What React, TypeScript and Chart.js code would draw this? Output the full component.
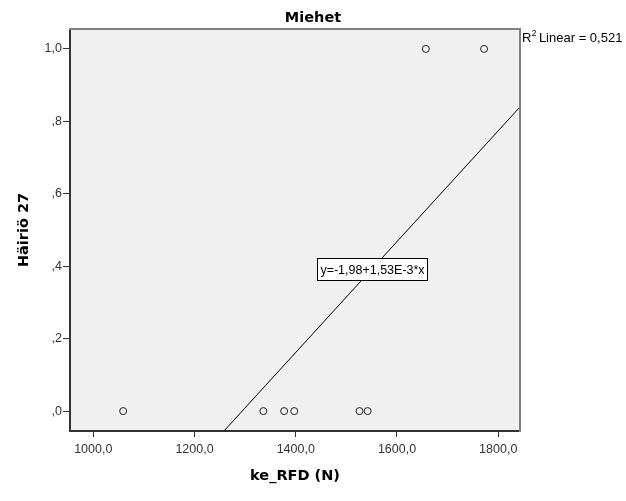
import React, { useEffect, useRef } from "react";
import { Chart, registerables } from "chart.js";

Chart.register(...registerables);

const TITLE = "Miehet";
const X_TITLE = "ke_RFD (N)";
const Y_TITLE = "Häiriö 27";

const xValues = [1059, 1336, 1377, 1397, 1526, 1542, 1657, 1772];
const yValues = [0, 0, 0, 0, 0, 0, 1, 1];

const xTicks = [1000, 1200, 1400, 1600, 1800];
const xTickLabels = ["1000,0", "1200,0", "1400,0", "1600,0", "1800,0"];
const yTicks = [0, 0.2, 0.4, 0.6, 0.8, 1.0];
const yTickLabels = [",0", ",2", ",4", ",6", ",8", "1,0"];

const X_RANGE = [954, 1843];
const Y_RANGE = [-0.055, 1.055];

const FIT_INTERCEPT = -1.98;
const FIT_SLOPE = 1.53e-3;
const FIT_LABEL = "y=-1,98+1,53E-3*x";
const FIT_LABEL_X = 1550;
const R2_VALUE = "0,521";

const SMALL_FONT = "12.5px 'Liberation Sans', Arial, sans-serif";
const BOLD_FONT = "bold 14.5px 'DejaVu Sans', sans-serif";

function labelFor(ticks: number[], labels: string[], v: number) {
  const i = ticks.findIndex((t) => Math.abs(t - v) < 1e-9);
  return i >= 0 ? labels[i] : "";
}

const framePlugin = {
  id: "frame",
  beforeDraw(chart: any) {
    const { ctx, chartArea } = chart;
    const { left, top, right, bottom } = chartArea;
    ctx.save();
    ctx.fillStyle = "#ffffff";
    ctx.fillRect(0, 0, chart.width, chart.height);
    ctx.fillStyle = "#f0f0f0";
    ctx.fillRect(left, top, right - left, bottom - top);
    ctx.restore();
  },
  afterDraw(chart: any) {
    const { ctx, chartArea, scales } = chart;
    const { left, top, right, bottom } = chartArea;
    ctx.save();
    // top and right frame
    ctx.strokeStyle = "#808080";
    ctx.lineWidth = 2;
    ctx.beginPath();
    ctx.moveTo(left - 1, top);
    ctx.lineTo(right, top);
    ctx.lineTo(right, bottom + 1);
    ctx.stroke();

    // chart title, centred on the whole canvas
    ctx.font = BOLD_FONT;
    ctx.fillStyle = "#000000";
    ctx.textAlign = "center";
    ctx.textBaseline = "middle";
    ctx.fillText(TITLE, chart.width / 2, 18);

    // equation label box
    const px = scales.x.getPixelForValue(FIT_LABEL_X);
    const py = scales.y.getPixelForValue(FIT_INTERCEPT + FIT_SLOPE * FIT_LABEL_X);
    ctx.font = SMALL_FONT;
    const tw = ctx.measureText(FIT_LABEL).width;
    const bw = Math.round(tw + 6);
    const bh = 22;
    const bx = Math.round(px - bw / 2) + 0.5;
    const by = Math.round(py - bh / 2) + 0.5;
    ctx.fillStyle = "#ffffff";
    ctx.fillRect(bx, by, bw, bh);
    ctx.strokeStyle = "#000000";
    ctx.lineWidth = 1;
    ctx.strokeRect(bx, by, bw, bh);
    ctx.fillStyle = "#000000";
    ctx.textAlign = "center";
    ctx.textBaseline = "middle";
    ctx.fillText(FIT_LABEL, bx + bw / 2, by + bh / 2 + 1);

    // R² text
    const rx = right + 2;
    const ry = 38;
    ctx.textAlign = "left";
    ctx.textBaseline = "middle";
    ctx.font = "13px 'Liberation Sans', Arial, sans-serif";
    ctx.fillStyle = "#000000";
    ctx.fillText("R", rx, ry);
    const rw = ctx.measureText("R").width;
    ctx.font = "8.5px 'Liberation Sans', Arial, sans-serif";
    ctx.fillText("2", rx + rw + 0.3, ry - 4);
    ctx.font = "13px 'Liberation Sans', Arial, sans-serif";
    ctx.fillText("Linear = " + R2_VALUE, rx + rw + 7.5, ry);
    ctx.restore();
  },
};

export default function App() {
  const ref = useRef<HTMLCanvasElement | null>(null);

  useEffect(() => {
    document.body.style.margin = "0";
    const canvas = ref.current;
    if (!canvas) return;

    const lineStartX = (Y_RANGE[0] - FIT_INTERCEPT) / FIT_SLOPE;
    const lineEndX = X_RANGE[1];
    const fitLine = [
      { x: lineStartX, y: FIT_INTERCEPT + FIT_SLOPE * lineStartX },
      { x: lineEndX, y: FIT_INTERCEPT + FIT_SLOPE * lineEndX },
    ];

    const tickFont = { family: "'Liberation Sans', Arial, sans-serif", size: 12.5 };
    const titleFont = { family: "'DejaVu Sans', sans-serif", size: 14.5, weight: "bold" as const };

    const chart = new Chart(canvas, {
      type: "scatter",
      data: {
        datasets: [
          {
            type: "scatter",
            data: xValues.map((x, i) => ({ x, y: yValues[i] })),
            pointStyle: "circle",
            pointRadius: 3.5,
            pointHoverRadius: 3.5,
            backgroundColor: "rgba(0,0,0,0)",
            borderColor: "#222222",
            borderWidth: 1,
          },
          {
            type: "line",
            data: fitLine,
            showLine: true,
            pointRadius: 0,
            borderColor: "#000000",
            borderWidth: 1,
            fill: false,
          } as any,
        ],
      },
      options: {
        responsive: false,
        animation: false,
        events: [],
        layout: { padding: { left: 0, right: 106, top: 29, bottom: 0 } },
        plugins: {
          legend: { display: false },
          tooltip: { enabled: false },
          title: { display: false },
        },
        scales: {
          x: {
            type: "linear",
            min: X_RANGE[0],
            max: X_RANGE[1],
            afterBuildTicks: (scale: any) => {
              scale.ticks = xTicks.map((v) => ({ value: v }));
            },
            afterFit: (scale: any) => {
              scale.height = 70;
            },
            ticks: {
              callback: (v: any) => labelFor(xTicks, xTickLabels, Number(v)),
              color: "#333333",
              font: tickFont,
              padding: 5,
              maxRotation: 0,
              autoSkip: false,
            },
            grid: {
              display: true,
              drawOnChartArea: false,
              drawTicks: true,
              tickLength: 6,
              color: "#333333",
              lineWidth: 1,
            },
            border: { display: true, color: "#333333", width: 2 },
            title: {
              display: true,
              text: X_TITLE,
              color: "#000000",
              font: titleFont,
              padding: { top: 0, bottom: 16 },
            },
          },
          y: {
            type: "linear",
            min: Y_RANGE[0],
            max: Y_RANGE[1],
            afterBuildTicks: (scale: any) => {
              scale.ticks = yTicks.map((v) => ({ value: v }));
            },
            afterFit: (scale: any) => {
              scale.width = 70;
            },
            ticks: {
              callback: (v: any) => labelFor(yTicks, yTickLabels, Number(v)),
              color: "#333333",
              font: tickFont,
              padding: 1,
              autoSkip: false,
            },
            grid: {
              display: true,
              drawOnChartArea: false,
              drawTicks: true,
              tickLength: 7,
              color: "#333333",
              lineWidth: 1,
            },
            border: { display: true, color: "#333333", width: 2 },
            title: {
              display: true,
              text: Y_TITLE,
              color: "#000000",
              font: titleFont,
              padding: { top: 16, bottom: 0 },
            },
          },
        },
      },
      plugins: [framePlugin],
    });

    return () => {
      chart.destroy();
    };
  }, []);

  return (
    <div style={{ width: 626, height: 501 }}>
      <canvas ref={ref} width={626} height={501} />
    </div>
  );
}
